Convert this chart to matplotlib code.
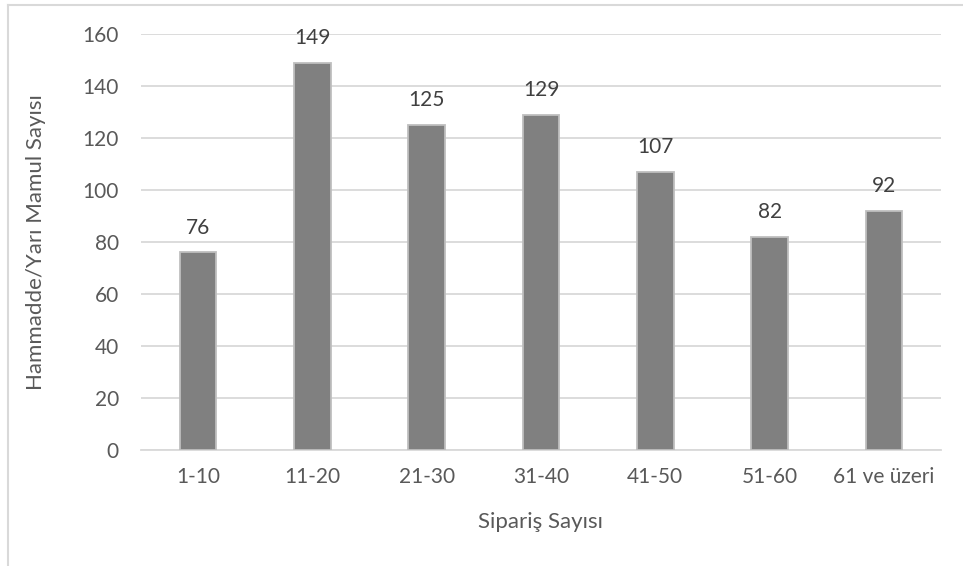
import matplotlib.pyplot as plt
from matplotlib.lines import Line2D

kategoriler = ['1-10', '11-20', '21-30', '31-40', '41-50', '51-60', '61 ve üzeri']
degerler = [76, 149, 125, 129, 107, 82, 92]
y_tikler = [0, 20, 40, 60, 80, 100, 120, 140, 160]

plt.rcParams['font.family'] = ['Lato', 'DejaVu Sans']
yazi_rengi = '#595959'
izgara_rengi = '#d9d9d9'

fig = plt.figure(figsize=(9.63, 5.66), dpi=100)
ax = fig.add_axes([141/963, 1 - 450/566, 800/963, 416/566])

x = range(len(kategoriler))
ax.bar(x, degerler, width=0.32, color='#808080',
       edgecolor='#bfbfbf', linewidth=1.3, zorder=3)

for xi, d in zip(x, degerler):
    ax.annotate(str(d), (xi, d), xytext=(0, 10.5), textcoords='offset points',
                ha='center', va='bottom', fontsize=15, color='#404040')

ax.set_xlim(-0.5, len(kategoriler) - 0.5)
ax.set_ylim(0, 160)
ax.set_yticks(y_tikler)
ax.set_xticks(list(x))
ax.set_xticklabels(kategoriler)
ax.tick_params(axis='both', length=0, labelsize=15, colors=yazi_rengi)
ax.tick_params(axis='y', pad=16)
ax.tick_params(axis='x', pad=12)
ax.yaxis.grid(True, color=izgara_rengi, linewidth=1.3, zorder=0)
for s in ['top', 'right', 'left']:
    ax.spines[s].set_visible(False)
ax.spines['bottom'].set_color(izgara_rengi)
ax.spines['bottom'].set_linewidth(1.3)

ax.set_xlabel('Sipariş Sayısı', fontsize=16, color=yazi_rengi, labelpad=18)
ax.set_ylabel('Hammadde/Yarı Mamul Sayısı', fontsize=16, color=yazi_rengi, labelpad=26)

# grafik çerçevesi (üst ve sol kenar)
fig.add_artist(Line2D([8/963, 1], [1 - 5/566, 1 - 5/566], transform=fig.transFigure,
                      color=izgara_rengi, linewidth=1.5))
fig.add_artist(Line2D([8/963, 8/963], [0, 1 - 5/566], transform=fig.transFigure,
                      color=izgara_rengi, linewidth=1.5))

fig.savefig('out.png', dpi=100)
